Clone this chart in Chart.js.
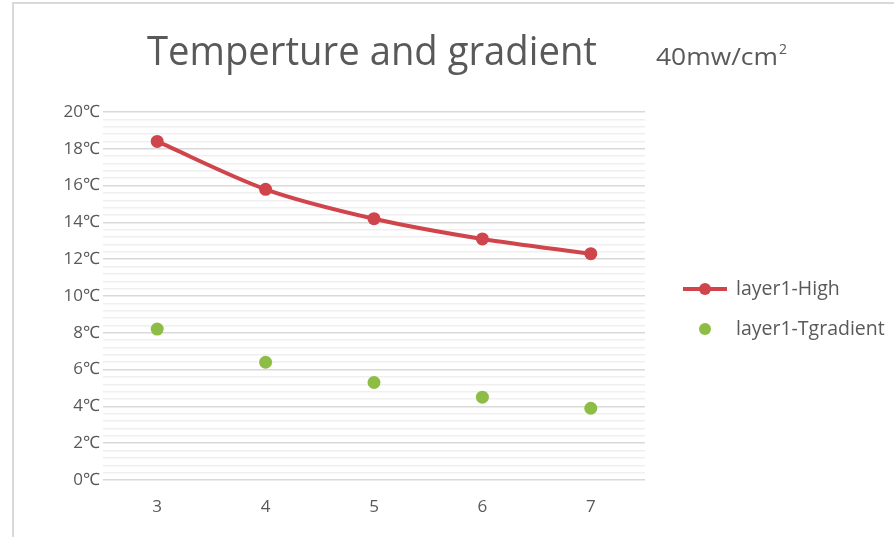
<!DOCTYPE html>
<html><head><meta charset="utf-8">
<style>html,body{margin:0;padding:0;background:#fff;}canvas{display:block;}</style>
<script src="https://cdn.jsdelivr.net/npm/chart.js@4"></script>
</head><body>
<canvas id="c" width="894" height="537"></canvas>
<script>
const categories = ['3', '4', '5', '6', '7'];
const highValues = [18.4, 15.8, 14.2, 13.1, 12.3];
const gradientValues = [8.2, 6.4, 5.3, 4.5, 3.9];
const seriesNames = ['layer1-High', 'layer1-Tgradient'];
const titleText = 'Temperture and gradient';
const subtitleText = '40mw/cm';
const yMin = 0, yMax = 20, yMajor = 2, yMinor = 0.4;

const RED = '#D0454C', GREEN = '#8DBD45', TXT = '#595959';
const FONT = '"Open Sans", sans-serif';

function fitText(ctx, text, x, y, target) {
  const w = ctx.measureText(text).width;
  ctx.save();
  ctx.translate(x, y);
  ctx.scale(target / w, 1);
  ctx.fillText(text, 0, 0);
  ctx.restore();
}

const deco = {
  id: 'deco',
  beforeDraw(chart) {
    const ctx = chart.ctx;
    ctx.save();
    ctx.fillStyle = '#fff';
    ctx.fillRect(0, 0, chart.width, chart.height);
    ctx.strokeStyle = '#d9d9d9';
    ctx.lineWidth = 2;
    ctx.beginPath();
    ctx.moveTo(13, 540); ctx.lineTo(13, 3); ctx.lineTo(900, 3);
    ctx.stroke();
    ctx.restore();
  },
  afterDraw(chart) {
    const ctx = chart.ctx;
    ctx.save();
    ctx.fillStyle = TXT;
    ctx.textBaseline = 'alphabetic';
    ctx.textAlign = 'left';
    ctx.font = '40px ' + FONT;
    fitText(ctx, titleText, 147, 65, 450);
    ctx.font = '23px ' + FONT;
    fitText(ctx, subtitleText, 656, 65, 122);
    ctx.font = '14px ' + FONT;
    ctx.fillText('2', 656 + 123, 54);
    const items = [
      {name: seriesNames[0], color: RED, line: true, y: 289},
      {name: seriesNames[1], color: GREEN, line: false, y: 329}
    ];
    ctx.font = '19.5px ' + FONT;
    ctx.textBaseline = 'middle';
    items.forEach(it => {
      if (it.line) {
        ctx.strokeStyle = it.color; ctx.lineWidth = 4;
        ctx.beginPath(); ctx.moveTo(683, it.y); ctx.lineTo(727, it.y); ctx.stroke();
      }
      ctx.fillStyle = it.color;
      ctx.beginPath(); ctx.arc(705, it.y, 6, 0, Math.PI * 2); ctx.fill();
      ctx.fillStyle = TXT;
      ctx.fillText(it.name, 736, it.y);
    });
    ctx.restore();
  }
};

const isMajor = v => Math.abs(v / yMajor - Math.round(v / yMajor)) < 1e-6;

new Chart(document.getElementById('c'), {
  type: 'line',
  data: {
    labels: categories,
    datasets: [
      {label: seriesNames[0], data: highValues, borderColor: RED, backgroundColor: RED,
       borderWidth: 4, pointRadius: 6.5, pointHoverRadius: 6.5, pointBackgroundColor: RED,
       pointBorderWidth: 0, tension: 0.3, fill: false},
      {label: seriesNames[1], data: gradientValues, borderColor: GREEN, backgroundColor: GREEN,
       showLine: false, pointRadius: 6.5, pointHoverRadius: 6.5, pointBackgroundColor: GREEN,
       pointBorderWidth: 0}
    ]
  },
  options: {
    responsive: false,
    animation: false,
    devicePixelRatio: 1,
    layout: {padding: {top: 112, right: 249, left: 0, bottom: 0}},
    plugins: {legend: {display: false}, title: {display: false}, tooltip: {enabled: false}},
    scales: {
      x: {
        type: 'category', offset: true,
        grid: {display: false, drawTicks: false},
        border: {display: false},
        ticks: {color: TXT, font: {family: FONT, size: 17}, padding: 17},
        afterFit(s) { s.height = 57; }
      },
      y: {
        min: yMin, max: yMax,
        border: {display: false},
        grid: {
          drawTicks: false,
          color: ctx => isMajor(ctx.tick.value) ? '#d9d9d9' : '#efefef',
          lineWidth: 1.5
        },
        ticks: {
          stepSize: yMinor, maxTicksLimit: 200, autoSkip: false,
          color: TXT, font: {family: FONT, size: 17}, padding: 3,
          callback: v => isMajor(v) ? Math.round(v) + '℃' : ''
        },
        afterFit(s) { s.width = 103; }
      }
    }
  },
  plugins: [deco]
});
</script>
</body></html>
